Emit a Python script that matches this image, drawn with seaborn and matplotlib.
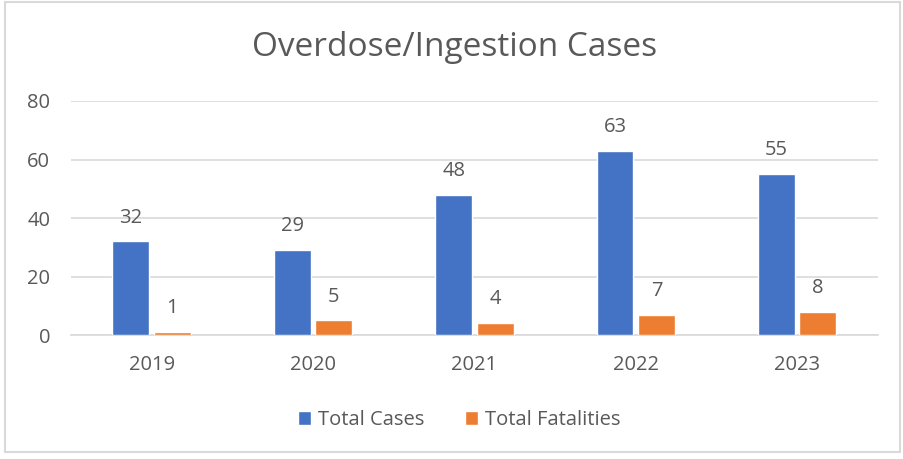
import pandas as pd
import matplotlib.pyplot as plt
import seaborn as sns
from matplotlib.patches import Rectangle

years = ["2019", "2020", "2021", "2022", "2023"]
total_cases = [32, 29, 48, 63, 55]
total_fatalities = [1, 5, 4, 7, 8]
series_names = ["Total Cases", "Total Fatalities"]
yticks = [0, 20, 40, 60, 80]

BLUE = "#4472C4"
ORANGE = "#ED7D31"
TEXT = "#595959"
GRID = "#D9D9D9"
FS = 14.5


def main():
    df = pd.DataFrame({
        "year": years * 2,
        "value": total_cases + total_fatalities,
        "series": [series_names[0]] * len(years) + [series_names[1]] * len(years),
    })

    sns.set_theme(style="white")
    plt.rcParams["font.family"] = ["Open Sans", "DejaVu Sans"]

    fig = plt.figure(figsize=(9.04, 4.59), dpi=100)
    ax = fig.add_axes([0.0785, 0.270, 0.8925, 0.510])

    sns.barplot(data=df, x="year", y="value", hue="series",
                palette=[BLUE, ORANGE], width=0.514, gap=0.11,
                saturation=1, ax=ax, zorder=3)

    # data labels above bars
    for cont in ax.containers:
        ax.bar_label(cont, padding=10, fontsize=FS, color=TEXT)

    ax.set_ylim(0, 80)
    ax.set_yticks(yticks)
    ax.yaxis.grid(True, color=GRID, linewidth=1.2, zorder=0)
    ax.set_xlabel("")
    ax.set_ylabel("")
    for side in ["left", "right", "top"]:
        ax.spines[side].set_visible(False)
    ax.spines["bottom"].set_color(GRID)
    ax.spines["bottom"].set_linewidth(1.2)
    ax.tick_params(axis="both", colors=TEXT, labelsize=FS, length=0)
    ax.tick_params(axis="y", pad=15)
    ax.tick_params(axis="x", pad=14)

    # title is centred on the whole chart, not the plot area
    fig.text(0.503, 0.897, "Overdose/Ingestion Cases", fontsize=24, color=TEXT,
             ha="center", va="center")

    ax.legend_.remove()
    handles, labels = ax.get_legend_handles_labels()
    fig.legend(handles, labels, loc="center", bbox_to_anchor=(0.508, 0.085),
               ncol=2, frameon=False, fontsize=FS, labelcolor=TEXT,
               handlelength=0.65, handleheight=0.65, handletextpad=0.35,
               columnspacing=2.0)

    # light frame around the chart area
    fig.patches.append(Rectangle((0.006, 0.016), 0.990, 0.980, transform=fig.transFigure,
                                 fill=False, edgecolor=GRID, linewidth=1.5))

    fig.savefig("out.png", dpi=100, facecolor="white")


if __name__ == "__main__":
    main()
